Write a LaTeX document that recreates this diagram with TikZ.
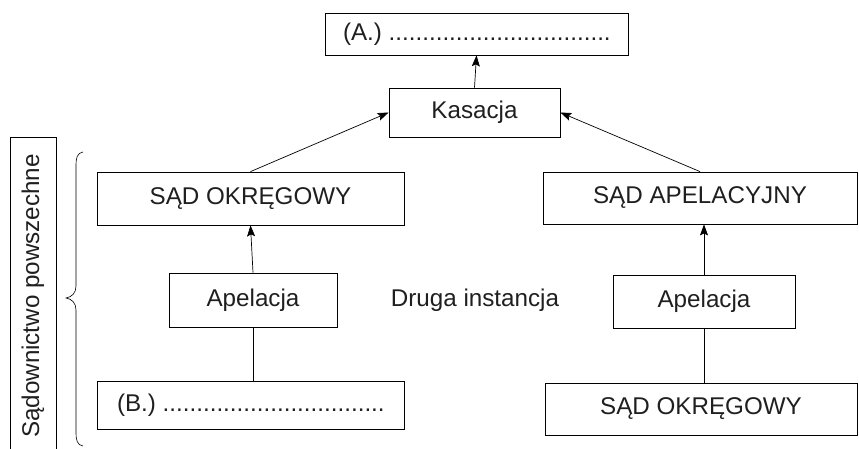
\documentclass[tikz,border=0pt]{standalone}
\usepackage{fontspec}
\setmainfont{Liberation Sans}
\usetikzlibrary{arrows.meta}
\begin{document}
\begin{tikzpicture}[x=1pt,y=-1pt,
  every node/.style={font=\fontsize{24.2}{29}\selectfont, text=black!88},
  box/.style={draw, line width=0.8pt, inner sep=0pt},
  conn/.style={line width=0.7pt},
  arr/.style={conn, -{Stealth[length=11pt,width=8pt,inset=2pt]}}]
\useasboundingbox (0,0) rectangle (859,449);
\node[box, minimum width=303, minimum height=42, inner xsep=0pt] (A) at (476.5,34) {\makebox[267pt][l]{(A.) .................................}};
\node[box, minimum width=171, minimum height=49] (kas) at (474.5,112.5) {Kasacja};
\node[box, minimum width=307, minimum height=53] (so1) at (250.5,198.5) {SĄD OKRĘGOWY};
\node[box, minimum width=314, minimum height=52] (sa) at (700,198) {SĄD APELACYJNY};
\node[box, minimum width=168, minimum height=54] (ap1) at (253,300) {Apelacja};
\node[box, minimum width=182, minimum height=53] (ap2) at (704,301.5) {Apelacja};
\node[box, minimum width=307, minimum height=48, inner xsep=0pt] (B) at (250.5,405) {\makebox[267pt][l]{(B.) .................................}};
\node[box, minimum width=312, minimum height=52] (so2) at (701,409) {SĄD OKRĘGOWY};
\node (druga) at (475,300) {Druga instancja};
% sidebar
\draw[line width=0.8pt] (10,452) -- (10,137) -- (56,137) -- (56,452);
\node[rotate=90] (side) at (33,296) {Sądownictwo powszechne};
\draw[line width=0.6pt] (83,152) .. controls (77,153) and (76,158) .. (76,166) -- (76,286) .. controls (76,293) and (72,297) .. (66,298) .. controls (72,299) and (76,303) .. (76,310) -- (76,432) .. controls (76,440) and (77,445) .. (83,446);
% connectors
\draw[arr] (kas.north) -- (A.south);
\draw[arr] (so1.north) -- (kas.west);
\draw[arr] (sa.north) -- (kas.east);
\draw[arr] (ap1.north) -- (so1.south);
\draw[conn] (B.north -| ap1.south) -- (ap1.south);
\draw[arr] (ap2.north) -- (ap2.north |- sa.south);
\draw[conn] (so2.north -| ap2.south) -- (ap2.south);
\end{tikzpicture}
\end{document}
